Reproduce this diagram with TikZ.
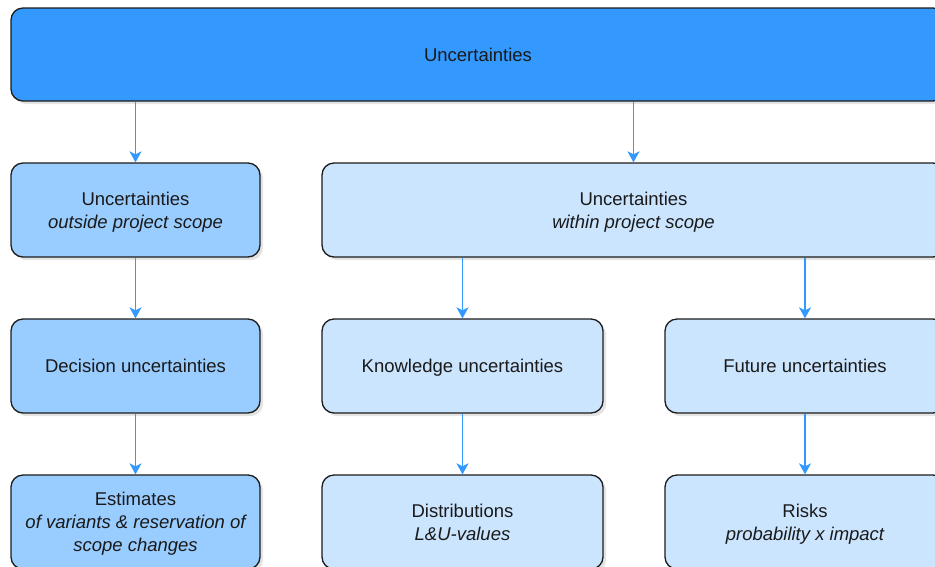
\documentclass[tikz,border=0pt]{standalone}
\usepackage{fontspec}
\setmainfont{Liberation Sans}
\usetikzlibrary{shadows,arrows.meta}
\definecolor{topblue}{HTML}{3399FF}
\definecolor{midblue}{HTML}{99CCFF}
\definecolor{lightblue}{HTML}{CCE5FF}
\definecolor{arrowblue}{HTML}{3399FF}
\definecolor{boxline}{HTML}{1C1C1C}
\definecolor{textdark}{HTML}{1A1A1A}
\begin{document}
\begin{tikzpicture}[x=1pt,y=-1pt,
  box/.style={draw=boxline, line width=1.3pt, rounded corners=12pt, align=center,
    font=\fontsize{18.5}{23}\selectfont, text=textdark, inner sep=0pt, text depth=0pt,
    drop shadow={shadow xshift=3pt, shadow yshift=-3pt, opacity=0.22}},
  arr/.style={draw=arrowblue, line width=1.7pt, -{Stealth[length=11pt,width=12pt,inset=3pt]}}
]
\useasboundingbox (0,0) rectangle (935,566);
\clip (0,0) rectangle (935,566);

\node[box, fill=topblue, minimum width=934pt, minimum height=93pt] (top) at (478,54.5) {Uncertainties};

\node[box, fill=midblue, minimum width=249pt, minimum height=94pt] (outside) at (135.5,210) {Uncertainties\\\itshape outside project scope};
\node[box, fill=lightblue, minimum width=623pt, minimum height=94pt] (within) at (633.5,210) {Uncertainties\\\itshape within project scope};

\node[box, fill=midblue, minimum width=249pt, minimum height=94pt] (decision) at (135.5,366) {Decision uncertainties};
\node[box, fill=lightblue, minimum width=281pt, minimum height=94pt] (knowledge) at (462.5,366) {Knowledge uncertainties};
\node[box, fill=lightblue, minimum width=280pt, minimum height=94pt] (future) at (805,366) {Future uncertainties};

\node[box, fill=midblue, minimum width=249pt, minimum height=94pt] (estimates) at (135.5,522) {Estimates\\\itshape of variants \& reservation of\\\itshape scope changes};
\node[box, fill=lightblue, minimum width=281pt, minimum height=94pt] (distrib) at (462.5,522) {Distributions\\\itshape L\&U-values};
\node[box, fill=lightblue, minimum width=280pt, minimum height=94pt] (risks) at (805,522) {Risks\\\itshape probability x impact};

\draw[arr] (top.south -| outside.north) -- (outside.north);
\draw[arr] (top.south -| within.north) -- (within.north);
\draw[arr] (outside.south) -- (decision.north);
\draw[arr] (within.south -| knowledge.north) -- (knowledge.north);
\draw[arr] (within.south -| future.north) -- (future.north);
\draw[arr] (decision.south) -- (estimates.north);
\draw[arr] (knowledge.south) -- (distrib.north);
\draw[arr] (future.south) -- (risks.north);
\end{tikzpicture}
\end{document}
